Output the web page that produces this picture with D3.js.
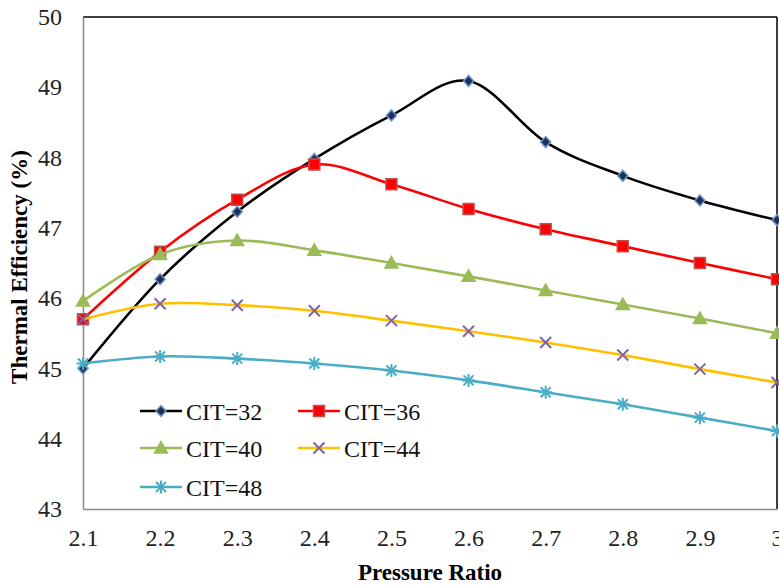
<!DOCTYPE html>
<html>
<head>
<meta charset="utf-8">
<script src="https://cdn.jsdelivr.net/npm/d3@7"></script>
<style>
  body { margin: 0; background: #fff; }
  svg { display: block; font-family: "Liberation Serif", "Times New Roman", serif; }
</style>
</head>
<body>
<svg id="chart" width="779" height="586"></svg>
<script>
// data
const pressureRatio = [2.1, 2.2, 2.3, 2.4, 2.5, 2.6, 2.7, 2.8, 2.9, 3.0];
const cit32 = [45.0, 46.27, 47.23, 47.98, 48.6, 49.09, 48.22, 47.74, 47.39, 47.11];
const cit36 = [45.7, 46.66, 47.4, 47.9, 47.62, 47.27, 46.98, 46.74, 46.5, 46.27];
const cit40 = [45.96, 46.62, 46.82, 46.68, 46.5, 46.31, 46.11, 45.91, 45.71, 45.5];
const cit44 = [45.7, 45.92, 45.9, 45.82, 45.68, 45.53, 45.37, 45.19, 44.99, 44.8];
const cit48 = [45.07, 45.17, 45.14, 45.07, 44.97, 44.83, 44.66, 44.49, 44.3, 44.11];
const xTicks = [2.1, 2.2, 2.3, 2.4, 2.5, 2.6, 2.7, 2.8, 2.9, 3];
const yTicks = [43, 44, 45, 46, 47, 48, 49, 50];

const series = [
  { name: "CIT=32", values: cit32, line: "#000000", fill: "#1f2f5c", stroke: "#6f94c8", marker: "diamond" },
  { name: "CIT=36", values: cit36, line: "#ff0000", fill: "#ff0000", stroke: "#c0504d", marker: "square" },
  { name: "CIT=40", values: cit40, line: "#9bbb59", fill: "#9bbb59", stroke: "#9bbb59", marker: "triangle" },
  { name: "CIT=44", values: cit44, line: "#ffc000", fill: "none", stroke: "#8064a2", marker: "times" },
  { name: "CIT=48", values: cit48, line: "#4bacc6", fill: "none", stroke: "#4bacc6", marker: "star" }
];

const svg = d3.select("#chart");
const plotL = 83, plotR = 777, plotT = 17, plotB = 509;

const x = d3.scaleLinear().domain([2.1, 3]).range([plotL, plotR]);
const y = d3.scaleLinear().domain([43, 50]).range([plotB, plotT]);

// plot frame
svg.append("line").attr("x1", plotL).attr("x2", plotR).attr("y1", plotT).attr("y2", plotT)
  .attr("stroke", "#000").attr("stroke-width", 1.5);
svg.append("line").attr("x1", plotR).attr("x2", plotR).attr("y1", plotT).attr("y2", plotB)
  .attr("stroke", "#000").attr("stroke-width", 1.5);

// axes (no tick marks, just labels)
const yAxis = d3.axisLeft(y).tickValues(yTicks).tickSize(0).tickPadding(21).tickFormat(d3.format("d"));
const xAxis = d3.axisBottom(x).tickValues(xTicks).tickSize(0).tickPadding(20).tickFormat(d => d === 3 ? "3" : d3.format(".1f")(d));

const gy = svg.append("g").attr("transform", `translate(${plotL},0)`).call(yAxis);
const gx = svg.append("g").attr("transform", `translate(0,${plotB})`).call(xAxis);
[gx, gy].forEach(g => {
  g.select(".domain").attr("stroke", "#898989").attr("stroke-width", 1.5);
  g.selectAll("text").attr("font-family", "Liberation Serif").attr("font-size", 24).attr("fill", "#222");
});

// axis titles
svg.append("text")
  .attr("x", 430).attr("y", 580)
  .attr("text-anchor", "middle")
  .attr("font-weight", "bold").attr("font-size", 23)
  .text("Pressure Ratio");
svg.append("text")
  .attr("transform", `translate(27,${(plotT + plotB) / 2 + 4}) rotate(-90)`)
  .attr("text-anchor", "middle")
  .attr("font-weight", "bold").attr("font-size", 23)
  .text("Thermal Efficiency (%)");

// marker shapes
function markerPath(kind) {
  switch (kind) {
    case "diamond": return "M0,-5.5L5,0L0,5.5L-5,0Z";
    case "square": return "M-5.5,-5.5H5.5V5.5H-5.5Z";
    case "triangle": return "M0,-6.5L6.5,5L-6.5,5Z";
    case "times": return "M-5.5,-5.5L5.5,5.5M5.5,-5.5L-5.5,5.5";
    case "star": return "M-5,-5L5,5M5,-5L-5,5M0,-6.5V6.5M-6.5,0H6.5";
  }
}
function drawMarker(g, s, cx, cy) {
  g.append("path")
    .attr("transform", `translate(${cx},${cy})`)
    .attr("d", markerPath(s.marker))
    .attr("fill", s.fill)
    .attr("stroke", s.stroke)
    .attr("stroke-width", s.marker === "times" || s.marker === "star" ? 2 : 1.5);
}

const line = d3.line()
  .x((d, i) => x(pressureRatio[i]))
  .y(d => y(d))
  .curve(d3.curveCatmullRom.alpha(0));

series.forEach(s => {
  const g = svg.append("g");
  g.append("path")
    .attr("d", line(s.values))
    .attr("fill", "none")
    .attr("stroke", s.line)
    .attr("stroke-width", 2.6);
  s.values.forEach((v, i) => drawMarker(g, s, x(pressureRatio[i]), y(v)));
});

// legend
const legendPos = [
  [140, 411], [298, 411],
  [140, 448], [298, 448],
  [140, 487]
];
series.forEach((s, i) => {
  const [lx, ly] = legendPos[i];
  const g = svg.append("g");
  g.append("line").attr("x1", lx).attr("x2", lx + 42).attr("y1", ly).attr("y2", ly)
    .attr("stroke", s.line).attr("stroke-width", 2.6);
  drawMarker(g, s, lx + 21, ly);
  g.append("text").attr("x", lx + 46).attr("y", ly + 8.5)
    .attr("font-size", 24).attr("fill", "#111")
    .text(s.name);
});
</script>
</body>
</html>
